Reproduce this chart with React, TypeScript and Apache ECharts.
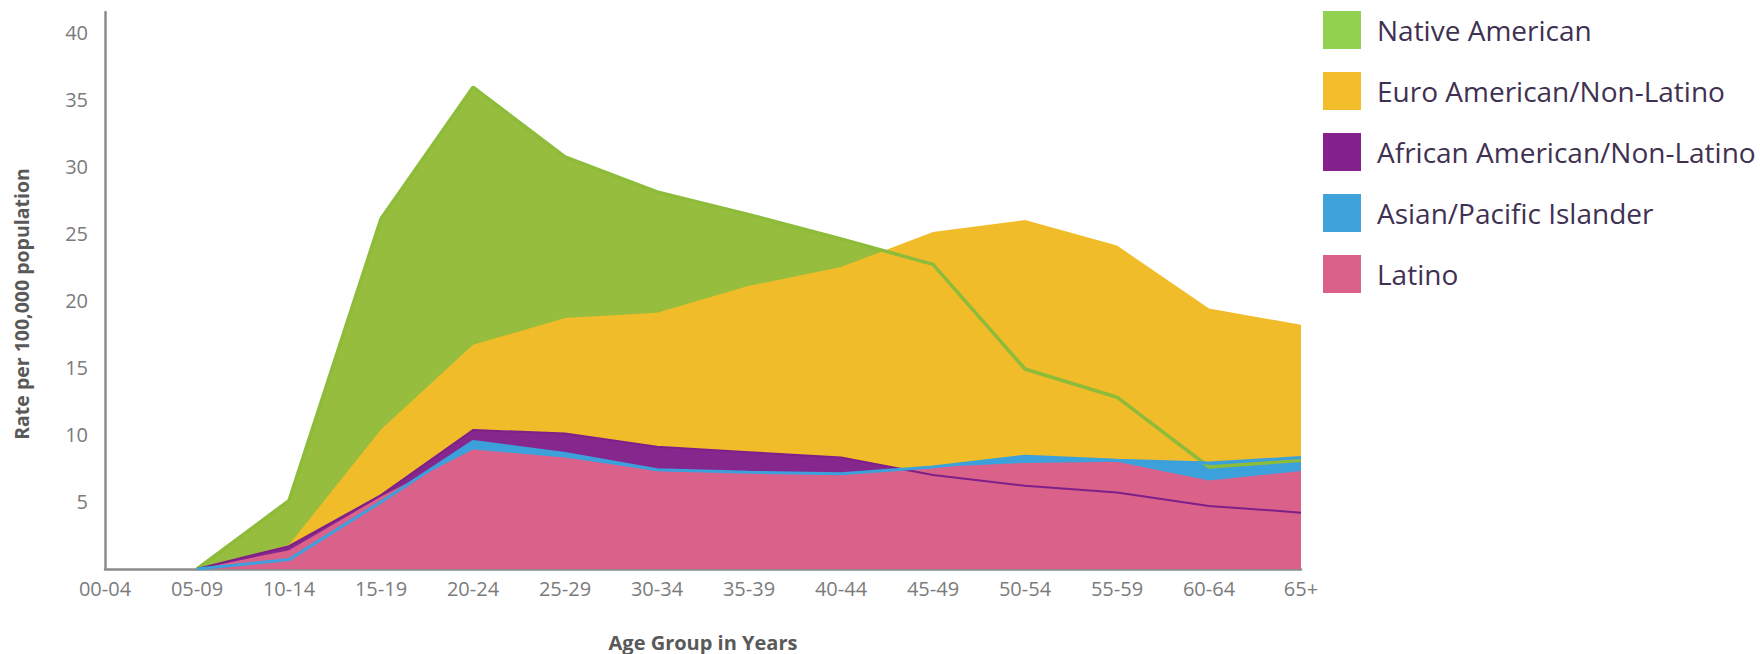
import { useEffect, useRef } from "react";
import * as echarts from "echarts";

const ageGroups = ["00-04", "05-09", "10-14", "15-19", "20-24", "25-29", "30-34", "35-39", "40-44", "45-49", "50-54", "55-59", "60-64", "65+"];
const nativeAmerican = [null, 0, 5.1, 26.1, 35.9, 30.7, 28.1, 26.4, 24.6, 22.7, 14.9, 12.8, 7.6, 8.1];
const euroAmerican = [null, 0, 1.8, 10.4, 16.7, 18.7, 19.1, 21.1, 22.5, 25.1, 26.0, 24.1, 19.4, 18.2];
const africanAmerican = [null, 0, 1.7, 5.5, 10.35, 10.1, 9.1, 8.7, 8.3, 7.0, 6.2, 5.7, 4.7, 4.2];
const asianPacific = [null, 0, 0.7, 5.0, 9.5, 8.6, 7.4, 7.2, 7.1, 7.6, 8.4, 8.1, 7.9, 8.3];
const latino = [null, 0, 1.4, 5.4, 8.9, 8.3, 7.3, 7.2, 7.0, 7.6, 7.9, 8.0, 6.6, 7.3];

const seriesNames = ["Native American", "Euro American/Non-Latino", "African American/Non-Latino", "Asian/Pacific Islander", "Latino"];
const seriesData = [nativeAmerican, euroAmerican, africanAmerican, asianPacific, latino];
const areaColors = ["#96BD3D", "#F1BC29", "#86278D", "#3CA0DB", "#D9618A"];
const legendColors = ["#92D050", "#F2BC2A", "#84218C", "#3FA2DB", "#DA6189"];
const lineColors = ["#8DBB3A", null, "#7E1F8A", "#3CA0DB", null];
const lineWidths = [3.5, 0, 2, 3, 0];

const yTitle = "Rate per 100,000 population";
const xTitle = "Age Group in Years";

export default function App() {
  const ref = useRef<HTMLDivElement>(null);
  useEffect(() => {
    document.body.style.margin = "0";
    const chart = echarts.init(ref.current!, null, { renderer: "svg" });
    const series: any[] = [];
    seriesNames.forEach((name, i) => {
      series.push({
        name,
        type: "line",
        data: seriesData[i],
        showSymbol: false,
        symbol: "none",
        lineStyle: { width: 0, color: areaColors[i] },
        itemStyle: { color: areaColors[i] },
        areaStyle: { color: areaColors[i], opacity: 1 },
        z: 2 + i * 0.01,
      });
    });
    seriesNames.forEach((name, i) => {
      if (!lineColors[i]) return;
      series.push({
        name,
        type: "line",
        data: seriesData[i],
        showSymbol: false,
        symbol: "none",
        lineStyle: { width: lineWidths[i], color: lineColors[i] },
        itemStyle: { color: lineColors[i] },
        z: 5,
      });
    });
    chart.setOption({
      animation: false,
      grid: { left: 105, right: 459, top: 12, bottom: 85, outerBoundsMode: "none", containLabel: false },
      legend: {
        orient: "vertical",
        left: 1318,
        top: 6,
        itemWidth: 38,
        itemHeight: 38,
        itemGap: 23,
        icon: "rect",
        data: seriesNames.map((n, i) => ({ name: n, itemStyle: { color: legendColors[i] } })),
        textStyle: {
          fontFamily: "Open Sans",
          fontSize: 28,
          color: "#3F3151",
          padding: [0, 0, 0, 11],
        },
      },
      graphic: [
        {
          type: "text",
          x: 21,
          y: 304,
          rotation: Math.PI / 2,
          style: {
            text: yTitle,
            fontFamily: "Open Sans",
            fontSize: 19.5,
            fontWeight: "bold",
            fill: "#595959",
            textAlign: "center",
            textVerticalAlign: "middle",
          },
        },
      ],
      xAxis: {
        type: "category",
        data: ageGroups,
        boundaryGap: false,
        axisTick: { show: false },
        axisLine: { lineStyle: { color: "#8C8C8C", width: 2.5 } },
        axisLabel: { fontFamily: "Open Sans", fontSize: 20, color: "#7B7B7B", margin: 9 },
        name: xTitle,
        nameLocation: "middle",
        nameGap: 63,
        nameTextStyle: { fontFamily: "Open Sans", fontSize: 20, fontWeight: "bold", color: "#595959" },
      },
      yAxis: {
        type: "value",
        min: 0,
        max: 41.5,
        interval: 5,
        splitLine: { show: false },
        axisTick: { show: false },
        axisLine: { show: true, lineStyle: { color: "#8C8C8C", width: 2.5 } },
        axisLabel: {
          fontFamily: "Open Sans",
          fontSize: 20,
          color: "#7B7B7B",
          margin: 17,
          formatter: (v: number) => (v === 0 || v % 5 !== 0 ? "" : String(v)),
        },
      },
      series,
    });
    return () => chart.dispose();
  }, []);
  return <div ref={ref} style={{ width: 1760, height: 654 }} />;
}
